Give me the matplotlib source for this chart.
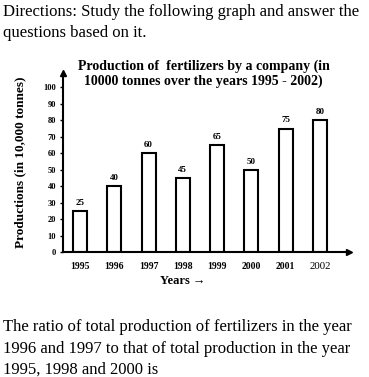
import numpy as np
import matplotlib.pyplot as plt

years = ['1995', '1996', '1997', '1998', '1999', '2000', '2001', '2002']
production = [25, 40, 60, 45, 65, 50, 75, 80]
yticks = list(range(0, 101, 10))

serif = ['Liberation Serif', 'DejaVu Serif']

fig = plt.figure(figsize=(3.69, 3.77), dpi=100)
fig.text(0.008, 0.99, 'Directions: Study the following graph and answer the\nquestions based on it.',
         ha='left', va='top', fontsize=12, family=serif, linespacing=1.45)
fig.text(0.008, 0.153, 'The ratio of total production of fertilizers in the year\n'
         '1996 and 1997 to that of total production in the year\n'
         '1995, 1998 and 2000 is',
         ha='left', va='top', fontsize=12, family=serif, linespacing=1.45)
fig.text(0.5515, 0.805, 'Production of  fertilizers by a company (in\n10000 tonnes over the years 1995 - 2002)',
         ha='center', va='center', fontsize=10, fontweight='bold', family=serif,
         linespacing=1.12)

ax = fig.add_axes([0.1707, 0.3316, 0.775, 0.476])
x = np.arange(len(years))
ax.bar(x, production, width=0.41, color='white', edgecolor='black', linewidth=1.5)
for xi, v in zip(x, production):
    ax.text(xi, v + 2.5, str(v), ha='center', va='bottom', fontsize=6.5,
            fontweight='bold', family=serif)

ax.set_xlim(-0.5, 7.85)
ax.set_ylim(0, 109)
for s in ['top', 'right']:
    ax.spines[s].set_visible(False)
for s in ['left', 'bottom']:
    ax.spines[s].set_linewidth(1.5)
ax.plot(1, 0, '>k', markersize=4, transform=ax.transAxes, clip_on=False)
ax.plot(0, 1, '^k', markersize=4, transform=ax.transAxes, clip_on=False)

ax.set_yticks(yticks)
ax.set_yticklabels([str(t) for t in yticks], fontsize=6, fontweight='bold', family=serif)
ax.tick_params(axis='y', length=2, width=1, pad=3)
ax.set_xticks(x)
ax.set_xticklabels(years, fontsize=7, fontweight='bold', family=serif)
ax.get_xticklabels()[-1].set_fontweight('normal')
ax.get_xticklabels()[-1].set_fontsize(7.8)
ax.tick_params(axis='x', length=0, pad=7)
ax.set_xticks(x[:-1] + 0.5, minor=True)
ax.tick_params(axis='x', which='minor', length=2, width=1.2, direction='inout')

ax.set_ylabel('Productions (in 10,000 tonnes)', fontsize=9.5, fontweight='bold',
              family=serif, labelpad=12)
ax.set_xlabel('Years \u2192', fontsize=9, fontweight='bold', family=serif, labelpad=5)
ax.xaxis.set_label_coords(0.42, -0.13)

fig.savefig('out.png', dpi=100)
